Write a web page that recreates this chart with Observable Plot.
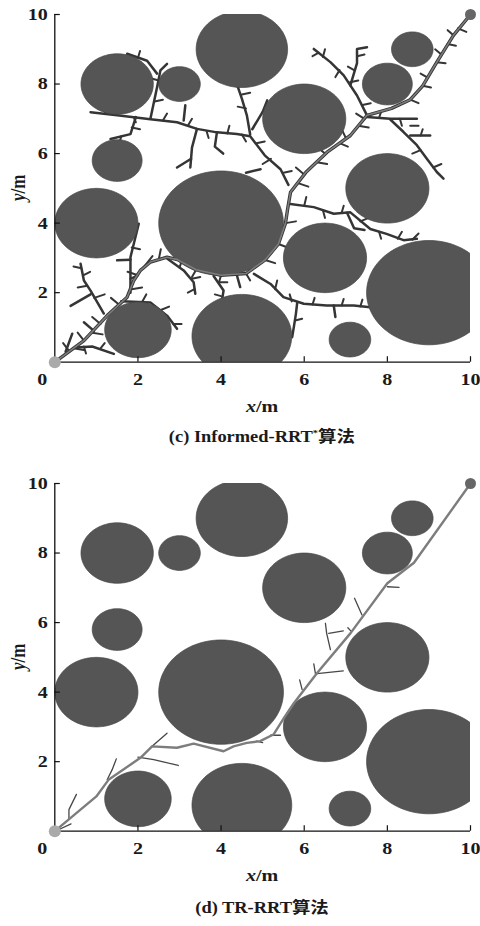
<!DOCTYPE html>
<html><head><meta charset="utf-8">
<script src="https://cdn.jsdelivr.net/npm/d3@7"></script>
<script src="https://cdn.jsdelivr.net/npm/@observablehq/plot@0.6"></script>
<style>
body{margin:0;background:#fff;width:480px;height:926px;overflow:hidden;position:relative;font-family:"Liberation Serif","Noto Sans CJK SC",serif;}
.panel{position:absolute;left:0;width:480px;}
.cap{position:absolute;left:54px;width:416px;text-align:center;font-weight:bold;font-size:16px;line-height:22px;color:#1a1a1a;}
.cap span{display:inline-block;transform:scaleX(1.15);}
.cap sup{font-size:9px;vertical-align:6px;line-height:0;}
</style></head><body>
<div id="pc" class="panel" style="top:0px"></div>
<div class="cap" style="top:426px"><span>(c) Informed-RRT<sup>*</sup>算法</span></div>
<div id="pd" class="panel" style="top:469px"></div>
<div class="cap" style="top:897px"><span>(d) TR-RRT算法</span></div>
<script>
// ---- data ----
const xTicks = [2, 4, 6, 8, 10];
const yTicks = [2, 4, 6, 8, 10];
const originLabel = ["0"];

// obstacles (same in both panels)
const obsX = [4.5, 1.5, 3.0, 8.6, 8.0, 6.0, 1.5, 1.0, 4.0, 8.0, 6.5, 9.0, 2.0, 4.5, 7.1];
const obsY = [9.0, 8.0, 8.0, 9.0, 8.0, 7.0, 5.8, 4.0, 4.0, 5.0, 3.0, 2.0, 0.93, 0.75, 0.65];
const obsR = [1.1, 0.87, 0.5, 0.5, 0.6, 1.0, 0.6, 1.0, 1.5, 1.0, 1.0, 1.5, 0.8, 1.2, 0.5];

const startPt = [[0, 0]];
const goalPt = [[10, 10]];

// (c) Informed-RRT*
const pathC = [[0,0],[0.70,0.62],[1.26,1.34],[1.74,1.87],[1.90,2.35],[2.06,2.64],[2.30,2.88],[2.70,3.02],[2.95,2.95],[3.4,2.66],[4.0,2.5],[4.6,2.55],[5.06,2.94],[5.38,3.4],[5.55,4.0],[5.6,4.4],[5.67,4.89],[6.04,5.46],[6.55,6.04],[7.11,6.52],[7.51,7.10],[8.1,7.3],[8.55,7.55],[8.85,7.95],[9.19,8.63],[9.59,9.40],[10,10]];
const branchesC = [
  [[0.86,7.19],[1.50,7.10],[2.30,6.99],[2.94,6.90],[3.42,6.71],[3.90,6.61],[4.38,6.56],[4.70,6.50],[5.05,5.95],[5.43,5.55],[5.62,5.1]],
  [[4.70,6.55],[4.62,7.10],[4.50,7.58],[4.39,7.96]],
  [[3.42,6.71],[3.30,6.17],[3.26,5.60]],
  [[3.28,5.85],[2.94,5.60]],
  [[3.90,6.61],[3.85,6.2],[4.05,6.0]],
  [[2.30,7.0],[2.46,7.91],[2.54,8.39],[2.70,8.58]],
  [[2.46,8.30],[2.22,8.67],[1.74,8.87]],
  [[1.95,7.05],[1.82,6.56],[1.34,6.42]],
  [[3.10,6.95],[3.14,7.39]],
  [[4.75,6.7],[5.0,7.2],[5.11,7.53]],
  [[7.51,7.10],[7.27,7.67],[6.95,8.25],[6.63,8.63],[6.23,9.01]],
  [[7.11,7.96],[7.27,8.6],[7.27,9.01],[7.51,9.06]],
  [[7.51,7.05],[8.07,7.0],[8.71,7.0]],
  [[8.07,6.98],[8.39,6.62],[8.71,6.24],[8.95,5.85],[9.19,5.47],[9.35,5.28]],
  [[8.55,6.52],[9.03,6.52]],
  [[5.62,4.56],[6.23,4.46],[6.71,4.27],[7.11,4.31],[7.59,3.83],[7.98,3.69],[8.39,3.51],[8.71,3.55]],
  [[4.79,2.54],[5.19,2.25],[5.50,1.87],[5.99,1.68],[6.54,1.63],[7.19,1.63],[7.59,1.58]],
  [[5.83,1.70],[5.80,1.39],[5.75,1.01],[5.71,0.72]],
  [[6.71,1.63],[6.75,1.30]],
  [[3.82,2.48],[4.06,2.06],[4.02,1.77]],
  [[4.38,2.5],[4.46,2.16]],
  [[2.70,2.98],[3.10,2.64],[3.34,2.3],[3.38,1.97]],
  [[1.18,1.40],[0.86,2.06],[0.70,2.35],[0.62,2.83]],
  [[0.86,1.95],[0.38,1.62]],
  [[1.82,2.0],[1.82,3.02],[2.02,3.98]],
  [[1.82,2.95],[1.50,2.93]],
  [[1.60,1.75],[2.30,1.72],[2.70,1.34],[2.94,0.96]],
  [[0.50,0.42],[0.90,0.45],[1.42,0.24]],
  [[0.26,0.30],[0.42,0.82]],
  [[0.94,0.90],[0.70,1.15]],
  [[7.03,4.3],[7.2,3.85],[7.45,3.8]],
  [[4.6,5.45],[4.95,5.55]]
];
const twigsC = [
  [0.35,0.31,0.2,0.55],[0.45,0.4,0.7,0.35],[0.7,0.62,0.55,0.85],[0.9,0.85,1.15,0.8],[1.1,1.1,0.9,1.3],[1.4,1.5,1.65,1.45],[1.55,1.65,1.35,1.85],[1.85,2.1,2.1,2.15],[2.0,2.5,1.75,2.6],[2.15,2.75,2.35,3.05],[2.5,2.95,2.55,3.25],
  [0.95,1.85,1.2,1.95],[0.78,2.2,0.55,2.15],[0.68,2.5,0.85,2.6],[0.64,2.7,0.45,2.75],
  [1.82,2.4,2.0,2.5],[1.85,3.3,2.05,3.25],[1.95,3.7,1.75,3.75],
  [2.1,1.73,2.2,1.95],[2.55,1.5,2.75,1.6],[2.85,1.1,3.05,1.1],
  [1.1,0.4,1.2,0.55],[0.7,0.45,0.75,0.25],
  [3.0,2.72,3.05,2.9],[3.3,2.4,3.5,2.45],[3.36,2.1,3.2,2.0],
  [3.95,2.3,4.15,2.3],[4.0,1.9,3.85,1.95],
  [3.4,2.66,3.3,2.45],[4.0,2.5,3.95,2.3],[4.6,2.55,4.7,2.35],[5.06,2.94,5.3,2.85],[5.38,3.4,5.6,3.3],[5.55,4.0,5.8,4.05],
  [5.3,2.1,5.35,2.35],[5.7,1.75,5.65,1.95],[6.2,1.66,6.25,1.85],[6.9,1.63,6.95,1.82],[7.35,1.6,7.4,1.8],
  [5.78,1.2,5.95,1.25],
  [6.0,4.5,6.05,4.75],[6.45,4.37,6.5,4.15],[6.9,4.3,6.95,4.5],[7.35,4.05,7.55,4.15],[7.8,3.75,7.85,3.55],[8.25,3.55,8.35,3.75],[8.6,3.52,8.75,3.7],
  [5.85,5.15,6.1,5.05],[6.0,5.4,5.8,5.6],[6.3,5.75,6.55,5.7],[6.5,6.0,6.3,6.2],[6.85,6.3,7.05,6.2],[7.0,6.45,6.9,6.7],[7.3,6.8,7.55,6.75],[7.45,7.0,7.25,7.15],
  [1.2,7.15,1.25,7.3],[1.9,7.05,1.95,6.9],[2.6,6.95,2.7,7.15],[3.2,6.8,3.3,7.0],[3.65,6.65,3.7,6.45],[4.15,6.58,4.2,6.8],[4.5,6.55,4.6,6.35],[4.85,6.3,5.05,6.35],[5.2,5.85,5.0,5.7],[5.5,5.45,5.7,5.5],
  [4.6,7.3,4.4,7.35],[4.5,7.7,4.7,7.75],[4.42,7.9,4.3,8.0],
  [2.4,7.5,2.6,7.55],[2.5,8.1,2.35,8.15],[2.0,8.75,2.05,8.95],
  [1.85,6.75,2.05,6.7],[1.6,6.5,1.55,6.3],
  [7.4,7.4,7.6,7.45],[7.1,8.05,7.3,8.1],[6.85,8.4,6.75,8.2],[6.45,8.78,6.5,9.0],[6.35,8.9,6.2,8.8],
  [7.2,8.4,7.05,8.5],[7.27,8.8,7.45,8.85],
  [7.8,7.03,7.85,7.2],[8.3,7.0,8.35,6.8],[8.55,6.8,8.75,6.8],[8.8,6.1,8.6,6.0],[9.1,5.6,9.3,5.7],[8.8,6.52,8.85,6.7],
  [8.55,7.55,8.75,7.45],[8.85,7.95,9.05,7.9],[8.95,8.2,8.8,8.3],[9.19,8.63,9.4,8.6],[9.3,8.85,9.15,9.0],[9.45,9.15,9.65,9.1],[9.59,9.40,9.45,9.55],[9.7,9.6,9.9,9.5]
];

// (d) TR-RRT
const pathD = [[0,0],[1.0,1.0],[1.3,1.49],[2.06,2.11],[2.34,2.44],[2.94,2.40],[3.34,2.52],[4.06,2.30],[4.30,2.44],[4.62,2.54],[4.94,2.59],[5.26,2.78],[5.51,3.25],[5.75,3.68],[6.31,4.55],[7.11,5.69],[8.0,7.13],[8.64,7.72],[10,10]];
const branchesD = [
  [[0.05,0.02],[0.39,0.21]],
  [[0.34,0.34],[0.34,0.62],[0.52,1.06]],
  [[1.26,1.48],[1.38,1.77],[1.48,2.08]],
  [[2.0,2.13],[2.38,2.06],[2.97,1.89]],
  [[2.34,2.44],[2.70,2.82]],
  [[4.85,2.59],[5.0,2.55]],
  [[5.19,2.76],[5.43,2.76]],
  [[5.95,4.07],[5.89,4.35]],
  [[6.31,4.53],[6.94,4.61]],
  [[6.27,4.53],[6.23,4.81]],
  [[6.63,5.22],[6.54,5.69],[6.51,5.98]],
  [[6.59,5.69],[6.94,5.76]],
  [[7.05,5.85],[7.12,5.76]],
  [[7.39,6.22],[7.21,6.70]],
  [[8.0,7.03],[8.28,7.01]]
];
const twigsD = [];

// ---- helpers building tables from the arrays ----
function circleRows() {
  const rows = [];
  obsX.forEach((cx, i) => {
    for (let k = 0; k < 96; k++) {
      const a = (2 * Math.PI * k) / 96;
      rows.push({id: i, x: cx + obsR[i] * Math.cos(a), y: obsY[i] + obsR[i] * Math.sin(a)});
    }
  });
  return rows;
}
function polyRows(polys) {
  const rows = [];
  polys.forEach((p, i) => p.forEach(([x, y]) => rows.push({id: i, x, y})));
  return rows;
}

const W = 480, H = 415, ML = 54.3, MR = 10, MT = 14, MB = 53.3;
const plotW = W - ML - MR, plotH = H - MT - MB;

function panel(path, branches, twigs, opts) {
  const svg = Plot.plot({
    width: W, height: H, marginLeft: ML, marginRight: MR, marginTop: MT, marginBottom: MB,
    x: {domain: [0, 10]}, y: {domain: [0, 10]},
    style: {fontFamily: '"Liberation Serif", serif', fontSize: "17px", fontWeight: "bold", color: "#1a1a1a", background: "transparent"},
    marks: [
      opts.treeOnPath ? Plot.line(path, {x: d => d[0], y: d => d[1], stroke: opts.branchColor, strokeWidth: 3.4, strokeLinejoin: "round"}) : null,
      Plot.line(polyRows(branches), {x: "x", y: "y", z: "id", stroke: opts.branchColor, strokeWidth: opts.branchWidth, strokeLinejoin: "round", strokeLinecap: "round"}),
      Plot.link(twigs, {x1: d => d[0], y1: d => d[1], x2: d => d[2], y2: d => d[3], stroke: opts.branchColor, strokeWidth: 2.0, strokeLinecap: "round"}),
      Plot.line(circleRows(), {x: "x", y: "y", z: "id", fill: "#555555", stroke: "#464646", strokeWidth: 0.7, curve: "linear-closed", clip: true}),
      Plot.line(path, {x: d => d[0], y: d => d[1], stroke: "#7d7d7d", strokeWidth: opts.pathWidth, strokeLinejoin: "round"}),
      Plot.ruleX([0], {stroke: "#111", strokeWidth: 1.3}),
      Plot.ruleY([0], {stroke: "#111", strokeWidth: 1.3}),
      Plot.tickX(xTicks, {x: d => d, insetTop: plotH - 5.5, stroke: "#111", strokeWidth: 1.2}),
      Plot.tickY(yTicks, {y: d => d, insetRight: plotW - 5.5, stroke: "#111", strokeWidth: 1.2}),
      Plot.axisX({ticks: xTicks, tickSize: 0, tickPadding: 11, label: null}),
      Plot.axisY({ticks: yTicks, tickSize: 0, tickPadding: 7, label: null}),
      Plot.text(originLabel, {x: 0, y: 0, text: d => d, dx: -12.6, dy: 17}),
      Plot.dot(startPt, {x: d => d[0], y: d => d[1], r: 6, fill: "#aaaaaa"}),
      Plot.dot(goalPt, {x: d => d[0], y: d => d[1], r: 5.5, fill: "#666666"})
    ]
  });
  // horizontal stretch of text like the source figure
  svg.querySelectorAll("text").forEach(t => {
    const tr = t.getAttribute("transform");
    if (tr && tr.startsWith("translate")) t.setAttribute("transform", tr + " scale(1.18,1)");
  });
  const s = d3.select(svg);
  const cx = ML + plotW / 2, cy = MT + plotH / 2;
  const xl = s.append("text").attr("transform", `translate(${cx},406.5) scale(1.18,1)`).attr("text-anchor", "middle").attr("dy", "0.35em").attr("font-size", 17).attr("font-weight", "bold").attr("fill", "#1a1a1a");
  xl.append("tspan").attr("font-style", "italic").text("x");
  xl.append("tspan").text("/m");
  const yl = s.append("text").attr("transform", `translate(18,${cy}) rotate(-90) scale(1,1.18)`).attr("text-anchor", "middle").attr("dy", "0.35em").attr("font-size", 17).attr("font-weight", "bold").attr("fill", "#1a1a1a");
  yl.append("tspan").attr("font-style", "italic").text("y");
  yl.append("tspan").text("/m");
  return svg;
}

document.getElementById("pc").append(panel(pathC, branchesC, twigsC, {treeOnPath: true, branchColor: "#353535", branchWidth: 2.5, pathWidth: 1.6}));
document.getElementById("pd").append(panel(pathD, branchesD, twigsD, {treeOnPath: false, branchColor: "#474747", branchWidth: 1.3, pathWidth: 2.4}));
</script>
</body></html>
